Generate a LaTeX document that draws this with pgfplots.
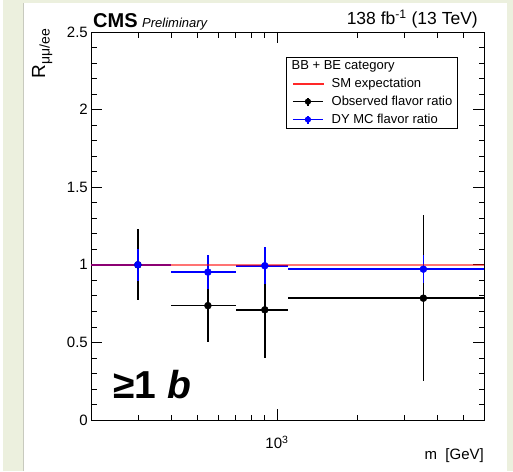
\documentclass[border=0pt]{standalone}
\usepackage{fontspec}
\setmainfont{Liberation Sans}
\usepackage{pgfplots}
\pgfplotsset{compat=1.18}
\definecolor{bgbeige}{RGB}{236,240,222}
\definecolor{framegray}{RGB}{200,202,190}
\definecolor{smred}{RGB}{255,40,40}
\begin{document}
\begin{tikzpicture}[x=1pt,y=1pt]
% page background / frame
\fill[bgbeige] (0,0) rectangle (513,471);
\fill[white] (0,0) rectangle (3,471);
\fill[white] (24,0) rectangle (507,468);
\draw[framegray, line width=0.8pt] (23.5,0) -- (23.5,468);
\begin{axis}[
  at={(91pt,51pt)}, anchor=south west,
  scale only axis, width=393pt, height=388pt,
  xmode=log, xmin=200, xmax=6000, ymin=0, ymax=2.5,
  xtick={1000}, xticklabels={10\textsuperscript{3}},
  minor xtick={300,400,500,600,700,800,900,2000,3000,4000,5000},
  ytick={0,0.5,1,1.5,2,2.5}, minor y tick num=4,
  tick align=inside, xtick pos=both, ytick pos=both,
  major tick length=11pt, minor tick length=5.5pt,
  every tick/.style={black, line width=0.7pt},
  axis line style={line width=0.8pt},
  /pgf/number format/assume math mode=true,
  ticklabel style={font=\fontsize{15}{17}\selectfont},
  yticklabel style={inner sep=0pt, xshift=-3pt},
  xticklabel style={inner sep=0pt, yshift=-16pt},
  legend style={at={(0.496,0.9356)}, anchor=north west, draw=black, line width=0.6pt,
    font=\fontsize{13}{15}\selectfont, inner xsep=6pt, inner ysep=2pt, row sep=4pt,
    column sep=3pt, nodes={inner xsep=5pt, inner ysep=1.5pt}},
  legend cell align=left,
  clip=false,
]
% legend title row
\addlegendimage{empty legend}
\addlegendentry{\hspace{-40pt}BB + BE category}
\addlegendimage{legend image code/.code={\fill[smred] (0pt,-0.7pt) rectangle (30pt,0.7pt);}}
\addlegendentry{SM expectation}
\addlegendimage{legend image code/.code={\draw[black, line width=1.4pt] (0pt,0pt)--(30pt,0pt); \draw[black, line width=1.4pt] (15pt,-4pt)--(15pt,4pt); \fill[black] (15pt,0pt) circle (2.8pt);}}
\addlegendentry{Observed flavor ratio\kern-6pt}
\addlegendimage{legend image code/.code={\draw[blue, line width=1.4pt] (0pt,0pt)--(30pt,0pt); \draw[blue, line width=1.4pt] (15pt,-4pt)--(15pt,4pt); \fill[blue] (15pt,0pt) circle (2.8pt);}}
\addlegendentry{DY MC flavor ratio}
% observed
\addplot[forget plot, black, only marks, mark=*, mark size=3.5pt,
  error bars/.cd, x dir=both, x explicit, y dir=both, y explicit, error mark=none,
  error bar style={line width=1.6pt, black}]
  coordinates {
  (300,1.000) +- (100,0.230)
  (550,0.737) +- (150,0.234)
  (900,0.710) +- (200,0.312)
  (3550,0.785) +- (2450,0.533)
  };
% DY MC
\addplot[forget plot, blue, only marks, mark=*, mark size=3.5pt,
  error bars/.cd, x dir=both, x explicit, y dir=both, y explicit, error mark=none,
  error bar style={line width=1.6pt, blue}]
  coordinates {
  (300,1.000) +- (100,0.105)
  (550,0.953) +- (150,0.108)
  (900,0.994) +- (200,0.120)
  (3550,0.972) +- (2450,0.092)
  };
% SM expectation
\addplot[forget plot, red, opacity=0.55, line width=1.6pt] coordinates {(200,1) (6000,1)};
\end{axis}
% texts
\node[anchor=base west, inner sep=0pt] at (93,443) {\fontsize{20}{22}\selectfont\bfseries CMS};
\node[anchor=base west, inner sep=0pt] at (142,443) {\fontsize{13}{15}\selectfont\itshape Preliminary};
\node[anchor=base east, inner sep=0pt] at (478,446) {\fontsize{17.5}{19}\selectfont 138 fb\textsuperscript{-1} (13 TeV)};
\node[rotate=90, anchor=base east, inner sep=0pt] at (45,442) {\fontsize{19}{21}\selectfont R\raisebox{-4.5pt}{\fontsize{14}{16}\selectfont μμ/ee}};
\node[anchor=base east, inner sep=0pt] at (484,12) {\fontsize{15}{17}\selectfont m~~[GeV]};
\node[anchor=base west, inner sep=0pt] at (113,73) {\fontsize{39}{44}\selectfont\bfseries ≥1 \textit{b}};
\end{tikzpicture}
\end{document}
